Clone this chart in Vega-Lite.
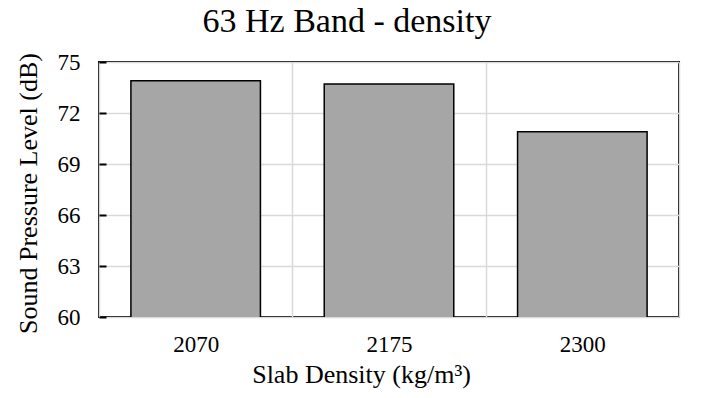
{
  "$schema": "https://vega.github.io/schema/vega-lite/v6.json",
  "width": 580,
  "height": 255,
  "autosize": {"type": "none"},
  "padding": {"left": 99, "top": 62, "right": 24, "bottom": 81},
  "background": "white",
  "title": {
    "text": "63 Hz Band - density",
    "font": "Liberation Serif",
    "fontSize": 34,
    "fontWeight": "normal",
    "color": "black",
    "anchor": "middle",
    "frame": "bounds",
    "offset": 12
  },
  "config": {
    "view": {"stroke": "black", "strokeWidth": 2},
    "axis": {
      "labelFont": "Liberation Serif",
      "titleFont": "Liberation Serif",
      "labelColor": "black",
      "titleColor": "black",
      "titleFontWeight": "normal",
      "gridColor": "#d9d9d9",
      "gridWidth": 1.5,
      "domain": false
    }
  },
  "data": {
    "values": [
      {"density": "2070", "spl": 73.9},
      {"density": "2175", "spl": 73.7},
      {"density": "2300", "spl": 70.9}
    ]
  },
  "mark": {"type": "bar", "fill": "#a6a6a6", "stroke": "black", "strokeWidth": 1.5, "clip": true, "width": {"band": 0.67}},
  "encoding": {
    "x": {
      "field": "density",
      "type": "nominal",
      "scale": {"paddingInner": 0, "paddingOuter": 0},
      "axis": {
        "title": "Slab Density (kg/m³)",
        "titleFontSize": 26,
        "titlePadding": 5,
        "titleX": 262,
        "labelAngle": 0,
        "labelFontSize": 23,
        "labelPadding": 16,
        "ticks": false,
        "grid": true,
        "tickBand": "extent"
      }
    },
    "y": {
      "field": "spl",
      "type": "quantitative",
      "scale": {"domain": [60, 75], "nice": false, "zero": false},
      "axis": {
        "title": "Sound Pressure Level (dB)",
        "titleFontSize": 26,
        "titlePadding": 16,
        "titleY": 131,
        "values": [60, 63, 66, 69, 72, 75],
        "labelFontSize": 23,
        "offset": -7,
        "tickSize": 7,
        "tickColor": "black",
        "tickWidth": 2,
        "labelPadding": 19,
        "grid": true
      }
    }
  }
}
